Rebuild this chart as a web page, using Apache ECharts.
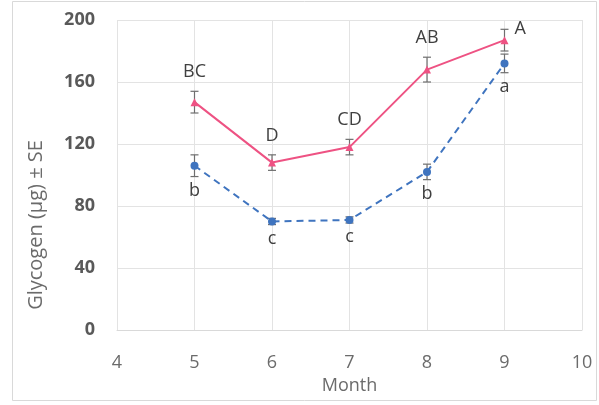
<!DOCTYPE html>
<html>
<head>
<meta charset="utf-8">
<script src="https://cdn.jsdelivr.net/npm/echarts@6/dist/echarts.min.js"></script>
<style>
  html, body { margin: 0; padding: 0; background: #fff; }
  #chart { width: 599px; height: 405px; }
</style>
</head>
<body>
<div id="chart"></div>
<script>
// Monthly glycogen content (mean ± SE) for two groups
const months = [5, 6, 7, 8, 9];
const pinkMean = [147, 108, 118, 168, 187];
const pinkSE = [7, 5, 5, 8, 7];
const pinkLetters = ['BC', 'D', 'CD', 'AB', 'A'];
const blueMean = [106, 70, 71, 102, 172];
const blueSE = [7, 2, 2, 5, 6];
const blueLetters = ['b', 'c', 'c', 'b', 'a'];
const xTicks = [4, 5, 6, 7, 8, 9, 10];
const yTicks = [0, 40, 80, 120, 160, 200];

const FONT = '"Open Sans", "Noto Sans", sans-serif';
const PINK = '#ee5283';
const BLUE = '#3f74bf';
const ERR = '#6e6e6e';

function pairs(means) {
  return months.map((m, i) => [m, means[i]]);
}

// Error bars with caps, plus the significance letter placed at the bar end
function errorSeries(means, ses, letters, above) {
  const data = months.map((m, i) => [m, means[i], ses[i], letters[i]]);
  return {
    type: 'custom',
    z: 3,
    data: data,
    renderItem: function (params, api) {
      const x = api.value(0), y = api.value(1), se = api.value(2);
      const letter = data[params.dataIndex][3];
      const top = api.coord([x, y + se]);
      const bot = api.coord([x, y - se]);
      const cap = 4;
      const style = { stroke: ERR, lineWidth: 1.2 };
      const children = [
        { type: 'line', shape: { x1: top[0], y1: top[1], x2: bot[0], y2: bot[1] }, style: style },
        { type: 'line', shape: { x1: top[0] - cap, y1: top[1], x2: top[0] + cap, y2: top[1] }, style: style },
        { type: 'line', shape: { x1: bot[0] - cap, y1: bot[1], x2: bot[0] + cap, y2: bot[1] }, style: style }
      ];
      const last = params.dataIndex === data.length - 1;
      let tx, ty, align = 'center', vAlign;
      if (above) {
        if (last) { tx = top[0] + 10; ty = top[1]; align = 'left'; vAlign = 'middle'; }
        else { tx = top[0]; ty = top[1] - 10; vAlign = 'bottom'; }
      } else {
        tx = bot[0]; ty = bot[1] + 5; vAlign = 'top';
      }
      children.push({
        type: 'text',
        style: {
          text: letter, x: tx, y: ty, align: align, verticalAlign: vAlign,
          fill: '#404040', font: '18px ' + FONT
        }
      });
      return { type: 'group', children: children };
    }
  };
}

const chart = echarts.init(document.getElementById('chart'), null, { renderer: 'canvas' });
chart.setOption({
  animation: false,
  backgroundColor: '#ffffff',
  grid: { left: 117, right: 17, top: 20, bottom: 75, containLabel: false },
  graphic: [
    {
      type: 'rect', z: -10,
      shape: { x: 12.5, y: 1.5, width: 584, height: 399 },
      style: { fill: 'none', stroke: '#d9d9d9', lineWidth: 1 }
    },
    {
      type: 'text', x: 36, y: 225, rotation: Math.PI / 2,
      style: {
        text: 'Glycogen (µg) ± SE', align: 'center', verticalAlign: 'middle',
        fill: '#6b6b6b', font: '20px ' + FONT
      }
    }
  ],
  xAxis: {
    type: 'value', min: xTicks[0], max: xTicks[xTicks.length - 1], interval: 1,
    name: 'Month', nameLocation: 'middle', nameGap: 44,
    nameTextStyle: { color: '#6b6b6b', fontSize: 18, fontFamily: FONT },
    axisLine: { show: true, lineStyle: { color: '#d9d9d9' } },
    axisTick: { show: false },
    axisLabel: { color: '#6b6b6b', fontSize: 18, fontFamily: FONT, margin: 24 },
    splitLine: { show: true, lineStyle: { color: '#e3e3e3' } }
  },
  yAxis: {
    type: 'value', min: yTicks[0], max: yTicks[yTicks.length - 1], interval: 40,
    axisLine: { show: false },
    axisTick: { show: false },
    axisLabel: { color: '#595959', fontSize: 18, fontWeight: 'bold', fontFamily: FONT, margin: 22 },
    splitLine: { show: true, lineStyle: { color: '#e3e3e3' } }
  },
  series: [
    {
      type: 'line', data: pairs(pinkMean), z: 4,
      symbol: 'triangle', symbolSize: 8,
      lineStyle: { color: PINK, width: 2 },
      itemStyle: { color: PINK }
    },
    {
      type: 'line', data: pairs(blueMean), z: 4,
      symbol: 'circle', symbolSize: 8,
      lineStyle: { color: BLUE, width: 2, type: [7, 5] },
      itemStyle: { color: BLUE }
    },
    errorSeries(pinkMean, pinkSE, pinkLetters, true),
    errorSeries(blueMean, blueSE, blueLetters, false)
  ]
});
</script>
</body>
</html>
